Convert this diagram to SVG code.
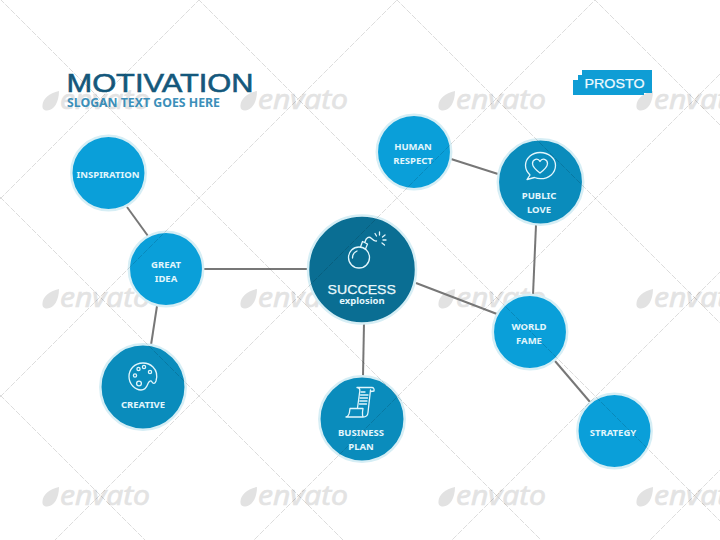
<svg xmlns="http://www.w3.org/2000/svg" xmlns:xlink="http://www.w3.org/1999/xlink" width="720" height="540" viewBox="0 0 720 540">
<style>
.wm{font-family:"Open Sans","Liberation Sans",sans-serif;font-style:italic;font-size:27px;fill:#e3e3e3;stroke:#e3e3e3;stroke-width:.7}
.leaf{fill:#e2e2e2}
.grid{stroke:#000;stroke-opacity:.2;stroke-width:.7;stroke-dasharray:6 1.5;fill:none}
.link{stroke:#777;stroke-width:2;fill:none}
.ring{stroke:#d6eef5;stroke-width:2.500}
.a{fill:#0a9fd9}.b{fill:#0a8cbc}.c{fill:#0a6e93}
.lbl{font-family:"Noto Sans","Open Sans",sans-serif;font-weight:700;font-size:9.500px;fill:#e2f6fc;text-anchor:middle}
.ic{fill:none;stroke:#e2f6fc;stroke-width:1.300;stroke-linecap:round;stroke-linejoin:round}
</style>
<defs>
<path id="leaf" d="M59 91C49 93 43 99 42.500 105C42 109 44 110.500 47 110.500C54 110.500 59 102 59 91Z"/>
</defs>
<rect width="720" height="540" fill="#fff"/>
<g id="watermarks">
<g class="leaf"><use xlink:href="#leaf"/><use xlink:href="#leaf" x="198"/><use xlink:href="#leaf" x="396"/><use xlink:href="#leaf" x="594"/><use xlink:href="#leaf" y="198"/><use xlink:href="#leaf" x="198" y="198"/><use xlink:href="#leaf" x="396" y="198"/><use xlink:href="#leaf" x="594" y="198"/><use xlink:href="#leaf" y="396"/><use xlink:href="#leaf" x="198" y="396"/><use xlink:href="#leaf" x="396" y="396"/><use xlink:href="#leaf" x="594" y="396"/></g>
<text class="wm" x="60" y="109" textLength="90" lengthAdjust="spacingAndGlyphs">envato</text><text class="wm" x="258" y="109" textLength="90" lengthAdjust="spacingAndGlyphs">envato</text><text class="wm" x="456" y="109" textLength="90" lengthAdjust="spacingAndGlyphs">envato</text><text class="wm" x="654" y="109" textLength="90" lengthAdjust="spacingAndGlyphs">envato</text>
<text class="wm" x="60" y="307" textLength="90" lengthAdjust="spacingAndGlyphs">envato</text><text class="wm" x="258" y="307" textLength="90" lengthAdjust="spacingAndGlyphs">envato</text><text class="wm" x="456" y="307" textLength="90" lengthAdjust="spacingAndGlyphs">envato</text><text class="wm" x="654" y="307" textLength="90" lengthAdjust="spacingAndGlyphs">envato</text>
<text class="wm" x="60" y="505" textLength="90" lengthAdjust="spacingAndGlyphs">envato</text><text class="wm" x="258" y="505" textLength="90" lengthAdjust="spacingAndGlyphs">envato</text><text class="wm" x="456" y="505" textLength="90" lengthAdjust="spacingAndGlyphs">envato</text><text class="wm" x="654" y="505" textLength="90" lengthAdjust="spacingAndGlyphs">envato</text>
</g>
<g id="connectors" class="link">
<line x1="127" y1="207" x2="148" y2="236"/>
<line x1="157" y1="306" x2="151" y2="345"/>
<line x1="203" y1="269" x2="307" y2="269"/>
<line x1="364" y1="323" x2="363" y2="376"/>
<line x1="416" y1="283" x2="497" y2="314"/>
<line x1="451" y1="159" x2="498" y2="174"/>
<line x1="536" y1="225" x2="533" y2="295"/>
<line x1="555" y1="361" x2="590" y2="402"/>
</g>
<g id="title">
<text x="66.500" y="92" textLength="187" lengthAdjust="spacingAndGlyphs" style="font-family:'Liberation Sans',sans-serif;font-size:26px;fill:#14587c;stroke:#14587c;stroke-width:.6">MOTIVATION</text>
<text x="67" y="107" textLength="153" lengthAdjust="spacingAndGlyphs" style="font-family:'Noto Sans','Open Sans',sans-serif;font-weight:700;font-size:12px;fill:#3c8fb9">SLOGAN TEXT GOES HERE</text>
</g>
<g id="logo">
<polygon points="582,70 652,70 652,93 644,93 644,95 573,95 573,80 578,80 578,75 582,75" fill="#0f9dd5"/>
<text x="584.500" y="88" textLength="60" lengthAdjust="spacingAndGlyphs" style="font-family:'Liberation Sans',sans-serif;font-size:13.500px;fill:#eefaff;stroke:#eefaff;stroke-width:.25">PROSTO</text>
</g>
<g id="node-inspiration"><circle class="a ring" cx="108.500" cy="173" r="37.200"/><text class="lbl" x="108" y="177.500">INSPIRATION</text></g>
<g id="node-great-idea"><circle class="a ring" cx="166" cy="269" r="37.200"/><text class="lbl" x="166" y="268">GREAT</text><text class="lbl" x="166" y="282">IDEA</text></g>
<g id="node-creative"><circle class="b ring" cx="143" cy="387" r="42.700"/>
<path class="ic" d="M143 363C134 363 129 370 129 376.500C129 384 135 390 141 390C146 390 147 386 148 383.500C149 381 151 380 152 382C153 384 155 384 156 381C157.500 376 157 371 153 367C150.500 364.500 147 363 143 363Z"/>
<circle class="ic" cx="138.500" cy="369" r="1.600"/><circle class="ic" cx="144" cy="367" r="1.600"/><circle class="ic" cx="150" cy="372" r="1.600"/><circle class="ic" cx="135" cy="375.500" r="1.600"/><circle class="ic" cx="139" cy="383.500" r="2.400"/>
<text class="lbl" x="143" y="408">CREATIVE</text></g>
<g id="node-success"><circle class="c ring" cx="362" cy="269.500" r="54"/>
<circle class="ic" cx="359" cy="257.500" r="10.500"/><path class="ic" d="M360.500 247L362.500 241.500L367.500 244L365.500 249M352.500 258C352.500 254.500 354.500 252 357 251M365 242C366 237.500 369 236 371.500 238.500C373 240 374.500 241.500 376.500 241"/>
<path class="ic" d="M379.500 235V232M382.500 237L385 235M383 240H386M382 243L384.500 245M376.500 236L375 233.500"/>
<text x="327.500" y="294" textLength="68.500" lengthAdjust="spacingAndGlyphs" style="font-family:'Liberation Sans',sans-serif;font-size:13.500px;fill:#eaf8fc;stroke:#eaf8fc;stroke-width:.25">SUCCESS</text>
<text class="lbl" x="362" y="304">explosion</text></g>
<g id="node-business-plan"><circle class="b ring" cx="362" cy="419" r="42.700"/>
<path class="ic" d="M357 387.500H372C373.500 387.500 374.500 389 374 391L370.500 391.500M357 387.500C359 387.500 360 389 359.800 391L357.500 408M370.500 390L368 412.500C367.800 415 366 417 363 417H346C348 416.500 349 415 349.500 412L350 408.500H363L362.500 412C362.300 415 363 417 363 417"/>
<path class="ic" stroke-width=".8" d="M361 392H365M360.500 395H368M360 398H367.500M359.800 401H367M359.500 404H366.500"/>
<text class="lbl" x="361" y="436">BUSINESS</text><text class="lbl" x="361" y="450">PLAN</text></g>
<g id="node-human-respect"><circle class="a ring" cx="414" cy="152" r="37.200"/><text class="lbl" x="413" y="150">HUMAN</text><text class="lbl" x="413" y="164">RESPECT</text></g>
<g id="node-public-love"><circle class="b ring" cx="540.500" cy="182" r="42.700"/>
<path class="ic" d="M540 152.500C532 152.500 525.500 158 525.500 165.500C525.500 169.500 527.500 172.500 530 175L527 179.500L534.500 177.500C536.500 178.300 538.500 178.700 540.500 178.700C549 178.700 555.500 173 555.500 165.500C555.500 158 548.500 152.500 540 152.500Z"/>
<path class="ic" d="M540 173C536 170 532.500 167 532.500 163.500C532.500 159 538 157.500 540 161.500C542 157.500 547.500 159 547.500 163.500C547.500 167 544 170 540 173Z"/>
<text class="lbl" x="539" y="199">PUBLIC</text><text class="lbl" x="539" y="213">LOVE</text></g>
<g id="node-world-fame"><circle class="a ring" cx="530" cy="332" r="37.200"/><text class="lbl" x="529" y="330">WORLD</text><text class="lbl" x="529" y="344">FAME</text></g>
<g id="node-strategy"><circle class="a ring" cx="614.500" cy="431" r="37.200"/><text class="lbl" x="613" y="436">STRATEGY</text></g>
<g id="watermark-lines" class="grid">
<path d="M0 199L199 0M0 397L397 0M0 595L595 0M143 651L793 1M341 651L793 199M539 651L793 397M0 -1L541 540M198 -1L739 540M396 -1L720 323M594 -1L720 125M0 197L343 540M0 395L145 540"/>
</g>
</svg>
